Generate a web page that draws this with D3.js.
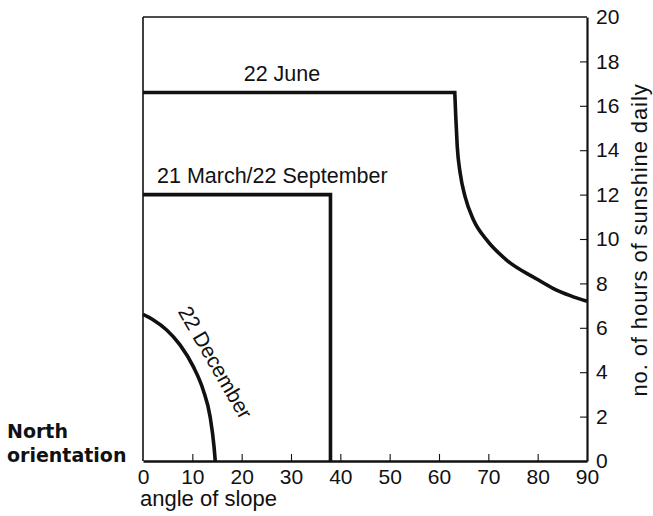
<!DOCTYPE html>
<html>
<head>
<meta charset="utf-8">
<script src="https://cdn.jsdelivr.net/npm/d3@7"></script>
<style>
  html, body { margin: 0; padding: 0; background: #fff; }
  svg { display: block; }
</style>
</head>
<body>
<div id="chart"></div>
<script>
// ---- data ----
const xTicks = [0, 10, 20, 30, 40, 50, 60, 70, 80, 90];
const yTicks = [0, 2, 4, 6, 8, 10, 12, 14, 16, 18, 20];

// 22 June: flat part, then falling curve
const juneFlatAngle = [0, 63.2];
const juneFlatHours = [16.6, 16.6];
const juneCurveAngle = [63.2, 63.4, 63.7, 64.3, 65.3, 67.0, 69.7, 73.7, 79.8, 83.1, 86.6, 90];
const juneCurveHours = [16.6, 15.5, 14.16, 12.96, 11.9, 10.86, 9.95, 9.05, 8.2, 7.78, 7.45, 7.2];

// 21 March / 22 September
const marchAngle = [0, 38, 38];
const marchHours = [12, 12, 0];

// 22 December
const decAngle = [0, 2.1, 4.8, 7.5, 10.2, 12.2, 13.6, 14.4, 14.65];
const decHours = [6.6, 6.35, 5.9, 5.23, 4.25, 3.2, 2.0, 0.64, 0];

const labels = {
  june: "22 June",
  march: "21 March/22 September",
  dec: "22 December",
  xTitle: "angle of slope",
  yTitle: "no. of hours of sunshine daily",
  north1: "North",
  north2: "orientation"
};

// ---- drawing ----
const W = 653, H = 516;
const FONT = "'Liberation Sans', Arial, sans-serif";
const svg = d3.select("#chart").append("svg").attr("width", W).attr("height", H)
  .style("font-family", FONT);

const x = d3.scaleLinear().domain([0, 90]).range([143, 587]);
const y = d3.scaleLinear().domain([0, 20]).range([461, 17]);

// frame: top and left thin lines
svg.append("line").attr("x1", x(0)).attr("x2", x(90)).attr("y1", y(20)).attr("y2", y(20))
  .attr("stroke", "#111").attr("stroke-width", 1.6);
svg.append("line").attr("x1", x(0)).attr("x2", x(0)).attr("y1", y(20)).attr("y2", y(0))
  .attr("stroke", "#111").attr("stroke-width", 1.6);

// bottom axis (ticks inward)
const xAxis = d3.axisBottom(x).tickValues(xTicks).tickSizeInner(-7).tickSizeOuter(0).tickPadding(10);
const gx = svg.append("g").attr("transform", `translate(0,${y(0)})`).call(xAxis);
gx.select(".domain").attr("stroke", "#111").attr("stroke-width", 2.6);
gx.selectAll(".tick line").attr("stroke", "#111").attr("stroke-width", 1.1)
  .filter(d => d === 0 || d === 90).remove();
gx.selectAll(".tick text").attr("fill", "#111").attr("dy", "0.71em").attr("y", 8)
  .style("font-family", FONT).style("font-size", "21px");

// right axis (ticks inward)
const yAxis = d3.axisRight(y).tickValues(yTicks).tickSizeInner(-7).tickSizeOuter(0).tickPadding(16);
const gy = svg.append("g").attr("transform", `translate(${x(90)},0)`).call(yAxis);
gy.select(".domain").attr("stroke", "#111").attr("stroke-width", 2.2);
gy.selectAll(".tick line").attr("stroke", "#111").attr("stroke-width", 1.1)
  .filter(d => d === 0 || d === 20).remove();
gy.selectAll(".tick text").attr("fill", "#111").attr("x", 9)
  .style("font-family", FONT).style("font-size", "21px");

// series
const lin = d3.line().x(d => x(d[0])).y(d => y(d[1]));
const cur = d3.line().x(d => x(d[0])).y(d => y(d[1])).curve(d3.curveMonotoneX);
const zip = (a, b) => a.map((v, i) => [v, b[i]]);

const juneD = lin(zip(juneFlatAngle, juneFlatHours)) + cur(zip(juneCurveAngle, juneCurveHours)).replace(/^M/, "L");
const lineStyle = p => p.attr("fill", "none").attr("stroke", "#111").attr("stroke-width", 3.6)
  .attr("stroke-linejoin", "miter").attr("stroke-linecap", "butt");

svg.append("path").attr("d", juneD).call(lineStyle);
svg.append("path").attr("d", lin(zip(marchAngle, marchHours))).call(lineStyle);
svg.append("path").attr("d", cur(zip(decAngle, decHours))).call(lineStyle);

// series labels
svg.append("text").attr("x", 282).attr("y", 81).attr("text-anchor", "middle").attr("fill", "#111")
  .style("font-size", "21.5px").text(labels.june);
svg.append("text").attr("x", 157).attr("y", 183).attr("text-anchor", "start").attr("fill", "#111")
  .style("font-size", "21.5px").text(labels.march);
svg.append("text").attr("text-anchor", "middle").attr("fill", "#111").style("font-size", "21px")
  .attr("transform", "translate(209,366) rotate(60)").text(labels.dec);

// axis titles
svg.append("text").attr("x", 140).attr("y", 506).attr("fill", "#111").style("font-size", "22px")
  .text(labels.xTitle);
svg.append("text").attr("text-anchor", "middle").attr("fill", "#111")
  .style("font-size", "22px").style("letter-spacing", "0.9px")
  .attr("transform", "translate(647,240) rotate(-90)").text(labels.yTitle);

// North orientation
const north = svg.append("text").attr("fill", "#111")
  .style("font-family", "'DejaVu Sans', sans-serif").style("font-weight", "bold").style("font-size", "19px");
north.append("tspan").attr("x", 7).attr("y", 438).text(labels.north1);
north.append("tspan").attr("x", 7).attr("y", 462).text(labels.north2);
</script>
</body>
</html>
